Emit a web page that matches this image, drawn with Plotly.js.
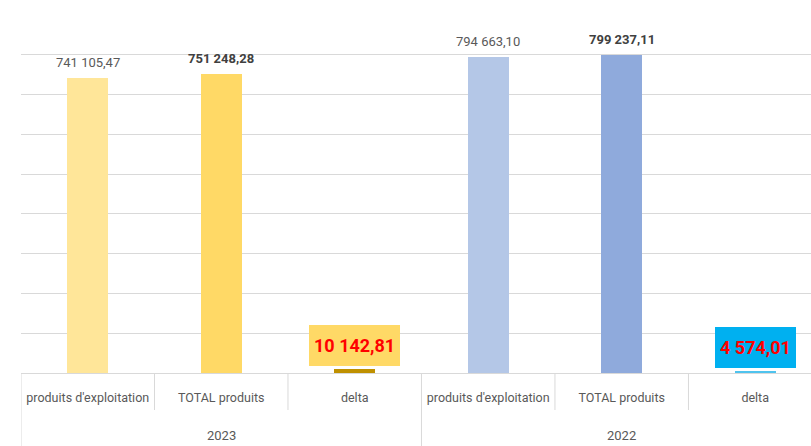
<!DOCTYPE html>
<html>
<head>
<meta charset="utf-8">
<script src="https://cdn.plot.ly/plotly-3.0.1.min.js"></script>
<style>html,body{margin:0;padding:0;overflow:hidden;background:#fff}</style>
</head>
<body>
<div id="chart" style="width:811px;height:446px"></div>
<script>
// ---- data ----
const years = ["2023", "2023", "2023", "2022", "2022", "2022"];
const categories = ["produits d'exploitation", "TOTAL produits", "delta",
                    "produits d'exploitation", "TOTAL produits", "delta"];
const values = [741105.47, 751248.28, 10142.81, 794663.10, 799237.11, 4574.01];
const barColors = ["#FFE699", "#FFD966", "#BF9000", "#B4C7E7", "#8FAADC", "#4FC3EE"];
const boldLabel = [false, true, false, false, true, false];
const boxLabel = [false, false, true, false, false, true];
const boxColors = ["", "", "#FFD966", "", "", "#00B0F0"];

// ---- helpers ----
function fmtFr(v) {
  const parts = v.toFixed(2).split(".");
  const intp = parts[0].replace(/\B(?=(\d{3})+(?!\d))/g, " ");
  return intp + "," + parts[1];
}
const FONT = "Roboto, 'Liberation Sans', sans-serif";
const idx = values.map((_, i) => i);

const trace = {
  type: "bar",
  x: idx,
  y: values,
  width: 0.31,
  marker: { color: barColors, line: { width: 0 } },
  hoverinfo: "skip"
};

// value labels
const annotations = [];
values.forEach((v, i) => {
  if (boxLabel[i]) {
    annotations.push({
      x: i, y: v, xref: "x", yref: "y",
      text: "<b>" + fmtFr(v) + "</b>",
      showarrow: false, yanchor: "bottom", yshift: 3,
      font: { family: FONT, size: 18, color: "#FF0000" },
      height: 31,
      bgcolor: boxColors[i], bordercolor: boxColors[i], borderwidth: 1, borderpad: 4
    });
  } else {
    annotations.push({
      x: i, y: v, xref: "x", yref: "y",
      text: boldLabel[i] ? "<b>" + fmtFr(v) + "</b>" : fmtFr(v),
      showarrow: false, yanchor: "bottom", yshift: 6,
      font: { family: FONT, size: 13, color: boldLabel[i] ? "#404040" : "#595959" }
    });
  }
});

// group (year) labels and dividers, computed from years array
const shapes = [];
const groups = [];
years.forEach((y, i) => {
  if (!groups.length || groups[groups.length - 1].name !== y) groups.push({ name: y, start: i, end: i });
  else groups[groups.length - 1].end = i;
});
const plotH = 446 - 15 - 73;
groups.forEach(g => {
  annotations.push({
    x: (g.start + g.end) / 2, xref: "x", y: -62 / plotH, yref: "paper",
    text: g.name, showarrow: false, yanchor: "middle",
    font: { family: FONT, size: 13, color: "#595959" }
  });
  shapes.push({
    type: "line", xref: "x", yref: "paper", x0: g.start - 0.5, x1: g.start - 0.5,
    y0: 0, y1: -73 / plotH, line: { color: "#D9D9D9", width: 1 }
  });
});
const last = groups[groups.length - 1];
shapes.push({
  type: "line", xref: "x", yref: "paper", x0: last.end + 0.5, x1: last.end + 0.5,
  y0: 0, y1: -73 / plotH, line: { color: "#D9D9D9", width: 1 }
});
// inner category separators
idx.forEach(i => {
  if (i > 0 && years[i] === years[i - 1]) {
    shapes.push({
      type: "line", xref: "x", yref: "paper", x0: i - 0.5, x1: i - 0.5,
      y0: 0, y1: -37 / plotH, line: { color: "#D9D9D9", width: 1 }
    });
  }
});

const layout = {
  width: 811, height: 446,
  margin: { l: 21, r: 0, t: 15, b: 73 },
  paper_bgcolor: "#fff", plot_bgcolor: "#fff",
  showlegend: false,
  bargap: 0,
  font: { family: FONT, color: "#595959" },
  xaxis: {
    type: "linear",
    range: [-0.5, 5.418],
    tickmode: "array", tickvals: idx, ticktext: categories,
    tickfont: { family: FONT, size: 12.5, color: "#595959" },
    ticks: "", ticklabelstandoff: 13,
    showgrid: false, zeroline: false,
    showline: true, linecolor: "#D9D9D9", linewidth: 1,
    fixedrange: true
  },
  yaxis: {
    range: [0, 900000], dtick: 100000, tick0: 0,
    showticklabels: false, ticks: "",
    showgrid: true, gridcolor: "#D9D9D9", gridwidth: 1,
    zeroline: false, showline: false, fixedrange: true
  },
  annotations: annotations,
  shapes: shapes
};

Plotly.newPlot("chart", [trace], layout, { displayModeBar: false, staticPlot: true });
</script>
</body>
</html>
